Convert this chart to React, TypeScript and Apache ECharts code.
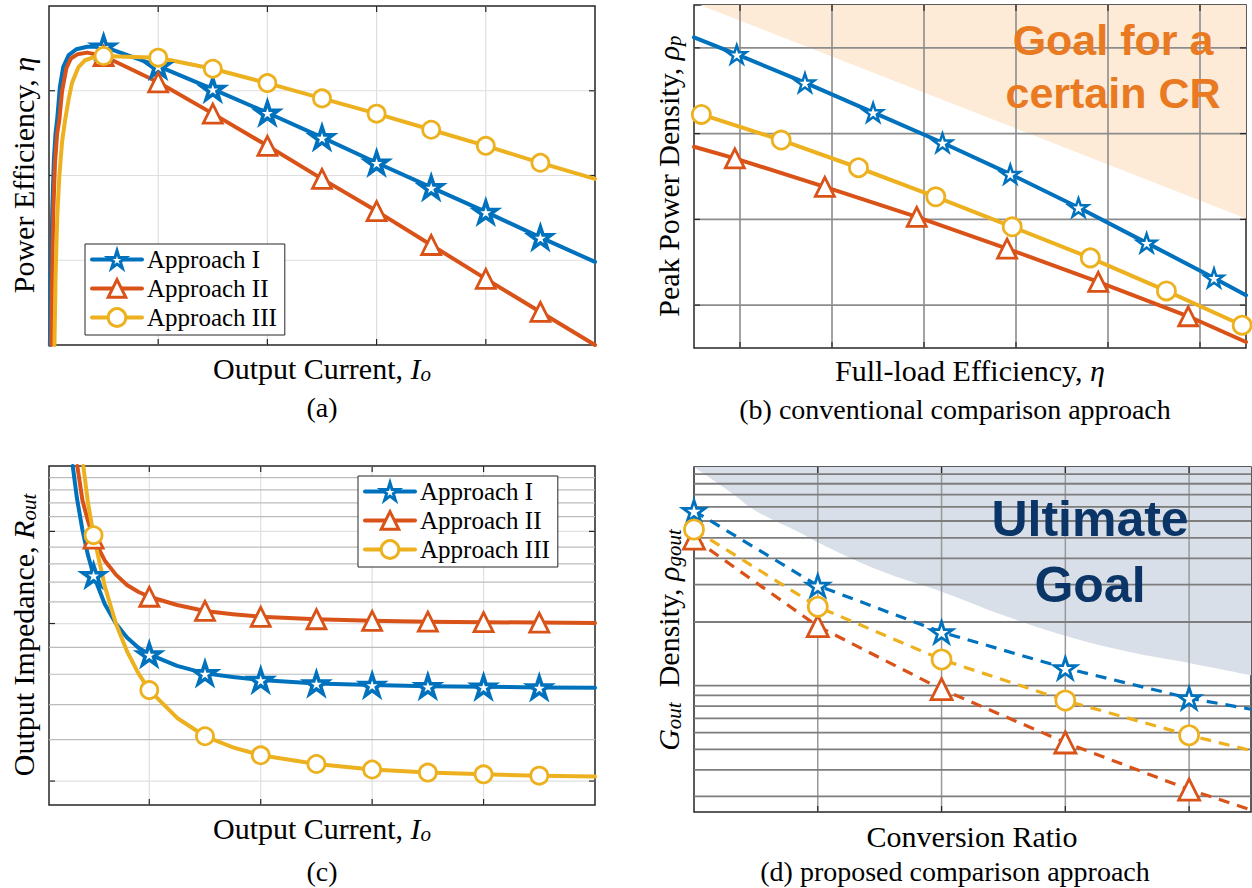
import React, { useEffect, useRef } from 'react';
import * as echarts from 'echarts';

const BLUE = '#0072BD';
const ORANGE = '#D95319';
const YELLOW = '#EDB120';
const SERIF = "'Liberation Serif', 'Times New Roman', serif";
const SANS = "'Liberation Sans', Arial, sans-serif";
const TICK = '#262626';
const STAR =
  'path://M0,-1L0.2245,-0.309L0.951,-0.309L0.3633,0.118L0.5878,0.809L0,0.382L-0.5878,0.809L-0.3633,0.118L-0.951,-0.309L-0.2245,-0.309Z';

const seriesNames = ['Approach I', 'Approach II', 'Approach III'];

// ---------- (a) Power efficiency vs output current ----------
const aMarkX = [0.5, 1, 1.5, 2, 2.5, 3, 3.5, 4, 4.5];
const aApproachI = [
  [0.008, 0], [0.02, 0.9], [0.03, 1.6], [0.045, 2.2], [0.06, 2.5], [0.076, 2.68], [0.1, 3.05],
  [0.13, 3.28], [0.18, 3.42], [0.25, 3.49], [0.35, 3.52], [0.5, 3.52], [1, 3.29], [1.5, 3.02],
  [2, 2.74], [2.5, 2.45], [3, 2.15], [3.5, 1.86], [4, 1.57], [4.5, 1.27], [5, 0.98],
];
const aApproachII = [
  [0.02, 0], [0.03, 0.9], [0.04, 1.6], [0.055, 2.15], [0.075, 2.5], [0.094, 2.65], [0.12, 3.0],
  [0.16, 3.27], [0.2, 3.38], [0.26, 3.43], [0.35, 3.45], [0.5, 3.41], [1, 3.1], [1.5, 2.73],
  [2, 2.35], [2.5, 1.96], [3, 1.58], [3.5, 1.18], [4, 0.78], [4.5, 0.39], [5, 0],
];
const aApproachIII = [
  [0.05, 0], [0.06, 0.8], [0.075, 1.5], [0.095, 2.0], [0.12, 2.4], [0.147, 2.65], [0.18, 2.9],
  [0.21, 3.09], [0.27, 3.28], [0.33, 3.36], [0.42, 3.4], [0.5, 3.41], [1, 3.39], [1.5, 3.26],
  [2, 3.09], [2.5, 2.91], [3, 2.73], [3.5, 2.54], [4, 2.35], [4.5, 2.15], [5, 1.96],
];
const aGridX = [1, 2, 3, 4];
const aGridY = [1, 2, 3];

// ---------- (b) Peak power density vs full-load efficiency ----------
const bApproachI = [
  [0, 3.623], [0.465, 3.425], [1.206, 3.094], [1.947, 2.748], [2.701, 2.394], [3.438, 2.028],
  [4.179, 1.639], [4.92, 1.226], [5.652, 0.817], [6, 0.615],
];
const bMarkI = [0.465, 1.206, 1.947, 2.701, 3.438, 4.179, 4.92, 5.652];
const bApproachII = [
  [0, 2.347], [0.444, 2.211], [1.422, 1.88], [2.421, 1.529], [3.403, 1.16], [4.394, 0.771],
  [5.372, 0.37], [6, 0.07],
];
const bMarkII = [0.444, 1.422, 2.421, 3.403, 4.394, 5.372];
const bApproachIII = [
  [0.08, 2.724], [0.948, 2.425], [1.788, 2.102], [2.628, 1.763], [3.459, 1.413], [4.308, 1.051],
  [5.135, 0.666], [5.958, 0.265],
];
const bMarkIII = [0.08, 0.948, 1.788, 2.628, 3.459, 4.308, 5.135, 5.958];
const bGoalEdge = [[0.065, 4], [6, 1.51]];
const bGridX = [0.5, 1.5, 2.5, 3.5, 4.5, 5.5];
const bGridY = [0.5, 1.5, 2.5, 3.5];

// ---------- (c) Output impedance vs output current (log y) ----------
const cMarkX = [0.5, 1, 1.5, 2, 2.5, 3, 3.5, 4, 4.5];
const cApproachI = [
  [0.313, 20], [0.35, 17.4], [0.4, 15.1], [0.45, 13.5], [0.5, 12.37], [0.6, 10.9], [0.7, 10.0],
  [0.8, 9.4], [0.9, 9.0], [1, 8.73], [1.25, 8.3], [1.5, 8.03], [1.75, 7.9], [2, 7.8], [2.5, 7.68],
  [3, 7.63], [3.5, 7.59], [4, 7.57], [4.5, 7.55], [5, 7.54],
];
const cApproachII = [
  [0.354, 20], [0.4, 17.2], [0.45, 15.7], [0.5, 14.53], [0.6, 13.2], [0.7, 12.4], [0.8, 11.85],
  [0.9, 11.5], [1, 11.25], [1.25, 10.85], [1.5, 10.57], [1.75, 10.42], [2, 10.3], [2.5, 10.19],
  [3, 10.12], [3.5, 10.08], [4, 10.06], [4.5, 10.04], [5, 10.02],
];
const cApproachIII = [
  [0.408, 20], [0.45, 17.0], [0.5, 14.75], [0.6, 11.8], [0.7, 10.0], [0.8, 8.85], [0.9, 8.05],
  [1, 7.46], [1.25, 6.6], [1.5, 6.09], [1.75, 5.8], [2, 5.6], [2.5, 5.39], [3, 5.26], [3.5, 5.19],
  [4, 5.15], [4.5, 5.12], [5, 5.1],
];
const cGridX = [1, 2, 3, 4];
const cMajorY = [5, 10, 15];
const cMinorY = [6, 7, 8, 9, 11, 12, 13, 14, 16, 17, 18, 19];

// ---------- (d) G_out density vs conversion ratio (log y) ----------
const dMarkX = [1, 2, 3, 4, 5];
const dApproachI = [[1, 6.7], [2, 2.97], [3, 1.79], [4, 1.21], [5, 0.873], [5.5, 0.774]];
const dApproachII = [[1, 4.95], [2, 1.91], [3, 0.963], [4, 0.539], [5, 0.323], [5.5, 0.259]];
const dApproachIII = [[1, 5.47], [2, 2.36], [3, 1.33], [4, 0.851], [5, 0.583], [5.5, 0.494]];
const dGoalEdge = [
  [1, 10.8], [1.29, 8.26], [1.5, 6.7], [1.86, 5.26], [2, 4.75], [2.5, 3.5], [3, 2.78],
  [3.5, 2.15], [4, 1.72], [4.5, 1.45], [5, 1.28], [5.5, 1.12],
];
const dGridX = [2, 3, 4, 5];
const dGridY = [0.3, 0.4, 0.5, 0.6, 0.7, 0.8, 0.9, 1, 2, 3, 4, 5, 6, 7, 8, 9, 10];

// ---------- helpers ----------
function mkLine(name, pts, markX, idx, color, symbol, size, bw, lw, dashed) {
  return {
    type: 'line',
    name,
    xAxisIndex: idx,
    yAxisIndex: idx,
    z: 3,
    silent: true,
    clip: true,
    data: pts.map((p) => (markX.includes(p[0]) ? { value: p } : { value: p, symbol: 'none' })),
    symbol,
    symbolSize: size,
    symbolKeepAspect: true,
    showSymbol: true,
    lineStyle: {
      color,
      width: lw,
      type: dashed ? [11, 8] : 'solid',
      cap: dashed ? 'butt' : 'round',
      join: 'round',
    },
    itemStyle: { color: '#fff', borderColor: color, borderWidth: bw, opacity: 1 },
    emphasis: { disabled: true },
  };
}

function decor(idx, d, xRef, yRef, st) {
  const rows = [];
  (d.vx || []).forEach((v) => rows.push([0, v]));
  (d.hy || []).forEach((v) => rows.push([1, v]));
  (d.hy2 || []).forEach((v) => rows.push([2, v]));
  (d.tx || []).forEach((v) => rows.push([3, v]));
  (d.ty || []).forEach((v) => rows.push([4, v]));
  const seg = (x1, y1, x2, y2, stroke, w) => ({
    type: 'line',
    shape: { x1, y1, x2, y2 },
    style: { stroke, lineWidth: w },
  });
  return {
    type: 'custom',
    xAxisIndex: idx,
    yAxisIndex: idx,
    z: 2,
    silent: true,
    clip: false,
    data: rows,
    renderItem: (params, api) => {
      const cs = params.coordSys;
      const kind = api.value(0);
      const v = api.value(1);
      const L = 6;
      if (kind === 0) {
        const px = api.coord([v, yRef])[0];
        return seg(px, cs.y, px, cs.y + cs.height, st.vc, st.vw);
      }
      if (kind === 1 || kind === 2) {
        const py = api.coord([xRef, v])[1];
        return seg(cs.x, py, cs.x + cs.width, py, kind === 1 ? st.hc : st.h2c, kind === 1 ? st.hw : st.h2w);
      }
      if (kind === 3) {
        const px = api.coord([v, yRef])[0];
        return {
          type: 'group',
          children: [
            seg(px, cs.y + cs.height, px, cs.y + cs.height - L, TICK, 1.2),
            seg(px, cs.y, px, cs.y + L, TICK, 1.2),
          ],
        };
      }
      const py = api.coord([xRef, v])[1];
      return {
        type: 'group',
        children: [
          seg(cs.x, py, cs.x + L, py, TICK, 1.2),
          seg(cs.x + cs.width, py, cs.x + cs.width - L, py, TICK, 1.2),
        ],
      };
    },
  };
}

function shade(idx, pts, color, smooth) {
  return {
    type: 'line',
    xAxisIndex: idx,
    yAxisIndex: idx,
    z: 1,
    silent: true,
    data: pts,
    smooth,
    symbol: 'none',
    lineStyle: { width: 0, opacity: 0 },
    areaStyle: { color, opacity: 1, origin: 'end' },
    emphasis: { disabled: true },
  };
}

function rich(fs) {
  return {
    m: { fontFamily: SERIF, fontSize: fs, fontStyle: 'italic', fill: '#000', lineHeight: fs + 2 },
    s: {
      fontFamily: SERIF,
      fontSize: Math.round(fs * 0.7),
      fontStyle: 'italic',
      fill: '#000',
      lineHeight: 16,
      verticalAlign: 'bottom',
    },
  };
}

function txt(x, y, text, fs, rotate) {
  return {
    type: 'text',
    x,
    y,
    rotation: rotate ? Math.PI / 2 : 0,
    z: 50,
    silent: true,
    style: {
      text,
      fontFamily: SERIF,
      fontSize: fs,
      fill: '#000',
      lineHeight: fs + 2,
      align: 'center',
      verticalAlign: 'middle',
      textAlign: 'center',
      textVerticalAlign: 'middle',
      rich: rich(fs),
    },
  };
}

function note(x, y, text, fs, color) {
  return {
    type: 'text',
    x,
    y,
    z: 60,
    silent: true,
    style: {
      text,
      fontFamily: SANS,
      fontWeight: 'bold',
      fontSize: fs,
      fill: color,
      align: 'center',
      verticalAlign: 'middle',
      textAlign: 'center',
      textVerticalAlign: 'middle',
    },
  };
}

function legendCfg(left, top) {
  const cols = [BLUE, ORANGE, YELLOW];
  return {
    left,
    top,
    orient: 'vertical',
    itemWidth: 50,
    itemHeight: 22,
    itemGap: 0,
    selectedMode: false,
    backgroundColor: '#fff',
    borderColor: '#262626',
    borderWidth: 1,
    borderRadius: 0,
    padding: [1, 8, 3, 5],
    textStyle: { fontFamily: SERIF, fontSize: 25, color: '#000', lineHeight: 29 },
    data: seriesNames.map((n, i) => ({
      name: n,
      itemStyle: { color: '#fff', borderColor: cols[i], borderWidth: 3 },
      lineStyle: { color: cols[i], width: 4 },
    })),
  };
}

const gridBase = {
  show: true,
  borderColor: '#262626',
  borderWidth: 1.5,
  backgroundColor: 'transparent',
  containLabel: false,
  outerBoundsMode: 'none',
};

function buildOption() {
  const aStyle = { vc: '#dedede', vw: 1.2, hc: '#dedede', hw: 1.2, h2c: '#dedede', h2w: 1.2 };
  const bStyle = { vc: '#8c8c8c', vw: 1.6, hc: '#8c8c8c', hw: 1.6, h2c: '#8c8c8c', h2w: 1.6 };
  const cStyle = { vc: '#e0e0e0', vw: 1.2, hc: '#e0e0e0', hw: 1.2, h2c: '#bcbcbc', h2w: 1.2 };
  const dStyle = { vc: '#999999', vw: 1.5, hc: '#7d7d7d', hw: 1.8, h2c: '#7d7d7d', h2w: 1.8 };

  return {
    animation: false,
    backgroundColor: '#ffffff',
    grid: [
      { ...gridBase, left: 49, top: 6, width: 546, height: 339 },
      { ...gridBase, left: 694, top: 5, width: 552, height: 343 },
      { ...gridBase, left: 49, top: 466, width: 546, height: 339 },
      { ...gridBase, left: 694, top: 467, width: 557, height: 345 },
    ],
    xAxis: [
      { gridIndex: 0, type: 'value', min: 0, max: 5, show: false },
      { gridIndex: 1, type: 'value', min: 0, max: 6, show: false },
      { gridIndex: 2, type: 'value', min: 0.1, max: 5, show: false },
      { gridIndex: 3, type: 'value', min: 1, max: 5.5, show: false },
    ],
    yAxis: [
      { gridIndex: 0, type: 'value', min: 0, max: 4, show: false },
      { gridIndex: 1, type: 'value', min: 0, max: 4, show: false },
      { gridIndex: 2, type: 'log', logBase: 10, min: 4.5, max: 20, show: false },
      { gridIndex: 3, type: 'log', logBase: 10, min: 0.253, max: 10.8, show: false },
    ],
    legend: [legendCfg(85, 244), legendCfg(358, 476)],
    series: [
      // (a)
      decor(0, { vx: aGridX, hy: aGridY, tx: aGridX, ty: aGridY }, 1, 1, aStyle),
      mkLine(seriesNames[0], aApproachI, aMarkX, 0, BLUE, STAR, 22, 3.6, 4, false),
      mkLine(seriesNames[1], aApproachII, aMarkX, 0, ORANGE, 'triangle', 19, 2.8, 4, false),
      mkLine(seriesNames[2], aApproachIII, aMarkX, 0, YELLOW, 'circle', 17, 2.8, 4, false),
      // (b)
      shade(1, bGoalEdge, '#FDEBD7', false),
      decor(1, { vx: bGridX, hy: bGridY, tx: bGridX, ty: bGridY }, 1, 1, bStyle),
      mkLine('b I', bApproachI, bMarkI, 1, BLUE, STAR, 19, 2.5, 4, false),
      mkLine('b II', bApproachII, bMarkII, 1, ORANGE, 'triangle', 19, 2.8, 4, false),
      mkLine('b III', bApproachIII, bMarkIII, 1, YELLOW, 'circle', 18, 2.8, 4, false),
      // (c)
      decor(2, { vx: cGridX, hy: cMajorY, hy2: cMinorY, tx: cGridX, ty: cMajorY }, 1, 10, cStyle),
      mkLine(seriesNames[0], cApproachI, cMarkX, 2, BLUE, STAR, 22, 3.6, 4, false),
      mkLine(seriesNames[1], cApproachII, cMarkX, 2, ORANGE, 'triangle', 19, 2.8, 4, false),
      mkLine(seriesNames[2], cApproachIII, cMarkX, 2, YELLOW, 'circle', 17, 2.8, 4, false),
      // (d)
      shade(3, dGoalEdge, '#D9DFE8', 0.4),
      decor(3, { vx: dGridX, hy2: dGridY, tx: dGridX }, 2, 1, dStyle),
      mkLine('d I', dApproachI, dMarkX, 3, BLUE, STAR, 22, 2.8, 3.2, true),
      mkLine('d II', dApproachII, dMarkX, 3, ORANGE, 'triangle', 21, 2.8, 3.2, true),
      mkLine('d III', dApproachIII, dMarkX, 3, YELLOW, 'circle', 19, 2.8, 3.2, true),
    ],
    graphic: [
      // (a)
      txt(23, 175, 'Power Efficiency, {m|η}', 30, true),
      txt(322, 368, 'Output Current, {m|I}{s|o}', 30, false),
      txt(322, 407, '(a)', 28, false),
      // (b)
      txt(668, 176, 'Peak Power Density, {m|ρ}{s|p}', 30, true),
      txt(970, 370, 'Full-load Efficiency, {m|η}', 30, false),
      txt(955, 409, '(b) conventional comparison approach', 28, false),
      note(1113, 40, 'Goal for a', 43, '#E97A22'),
      note(1113, 93, 'certain CR', 43, '#E97A22'),
      // (c)
      txt(23, 635, 'Output Impedance, {m|R}{s|out}', 30, true),
      txt(322, 828, 'Output Current, {m|I}{s|o}', 30, false),
      txt(322, 871, '(c)', 28, false),
      // (d)
      txt(668, 640, '{m|G}{s|out}  Density, {m|ρ}{s|gout}', 30, true),
      txt(972, 836, 'Conversion Ratio', 30, false),
      txt(955, 871, '(d) proposed comparison approach', 28, false),
      note(1090, 519, 'Ultimate', 50, '#0B3467'),
      note(1090, 585, 'Goal', 50, '#0B3467'),
    ],
  };
}

export default function App() {
  const ref = useRef(null);
  useEffect(() => {
    const chart = echarts.init(ref.current, null, { renderer: 'svg' });
    chart.setOption(buildOption());
    return () => chart.dispose();
  }, []);
  return (
    <div
      ref={ref}
      style={{ position: 'fixed', left: 0, top: 0, width: 1252, height: 888, background: '#fff' }}
    />
  );
}
